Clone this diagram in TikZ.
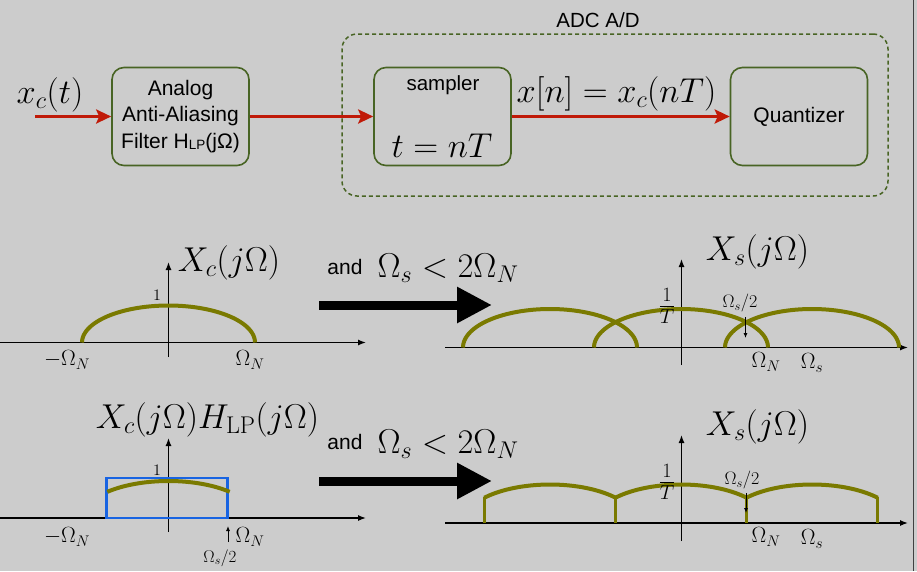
\RequirePackage{fix-cm}
\documentclass[tikz,border=0pt]{standalone}
\usepackage{fontspec}
\newfontfamily\helv{Liberation Sans}
\usetikzlibrary{arrows.meta}
\definecolor{bg}{RGB}{204,204,204}
\definecolor{boxgreen}{RGB}{72,100,36}
\definecolor{sigred}{RGB}{192,26,8}
\definecolor{olivec}{RGB}{122,122,0}
\definecolor{lpblue}{RGB}{24,100,226}
\tikzset{
 blk/.style={draw=boxgreen, line width=1.6pt, rounded corners=12pt, minimum width=137pt, minimum height=98pt, inner sep=0pt, align=center, font=\helv\fontsize{21}{26.5}\selectfont},
 sig/.style={draw=sigred, line width=3pt, -{Stealth[length=15pt,width=14pt,inset=3pt]}},
 htext/.style={inner sep=0pt, font=\helv\fontsize{20.5}{25}\selectfont},
 bigmath/.style={inner sep=0pt, font=\fontsize{34.5}{40}\selectfont},
 axmath/.style={inner sep=0pt, font=\fontsize{22}{26}\selectfont},
 smmath/.style={inner sep=0pt, font=\fontsize{18}{22}\selectfont},
 onelbl/.style={inner sep=0pt, font=\fontsize{16}{19}\selectfont},
 fraclbl/.style={inner sep=0pt, font=\fontsize{29}{33}\selectfont},
 axisline/.style={line width=1.3pt, -{Latex[length=8pt,width=6pt]}},
 spec/.style={draw=olivec, line width=4pt},
 tickarrow/.style={line width=0.9pt, -{Latex[length=5pt,width=4pt]}},
 bigarrow/.style={line width=9pt, -{Triangle[length=35pt,width=34pt]}},
}
\begin{document}
\begin{tikzpicture}[x=1pt,y=-1pt]
\fill[bg] (0,0) rectangle (917,571);
\useasboundingbox (0,0) rectangle (917,571);
\coordinate (edgeT) at (913.5,0);
\coordinate (edgeB) at (913.5,571);
\draw[line width=1.5pt, black!75] (edgeT) -- (edgeB);

% ---------- top block diagram ----------
\node[draw=boxgreen, line width=1.5pt, dash pattern=on 4pt off 3pt, rounded corners=15pt, minimum width=546pt, minimum height=162pt] (adc) at (615,115) {};
\node[htext] (adclbl) at (598,20) {ADC A/D};
\node[blk] (filter) at (180.5,116.5) {Analog\\Anti-Aliasing\\Filter H\raisebox{-1pt}{\fontsize{13.5}{14}\selectfont LP}(jΩ)};
\node[blk] (sampler) at (442.5,116.5) {};
\node[htext] (samplbl) at (443,85) {sampler};
\node[bigmath] (tnt) at (442,146) {$t=nT$};
\node[blk] (quant) at (799,116.5) {Quantizer};
\coordinate (in) at (35,116.5);
\node[bigmath] (xct) at (50,95) {$x_c(t)$};
\draw[sig] (in) -- (filter.west);
\draw[sig] (filter.east) -- (sampler.west);
\draw[sig] (sampler.east) -- (quant.west);
\node[bigmath] (xn) at (616.5,94) {$x[n]=x_c(nT)$};

% ---------- plot 1 ----------
\coordinate (a1l) at (0,342.5); \coordinate (a1r) at (366,342.5);
\coordinate (v1b) at (168.5,357); \coordinate (v1t) at (168.5,262);
\draw[axisline] (a1l) -- (a1r);
\draw[axisline] (v1b) -- (v1t);
\draw[spec] plot[smooth, domain=180:0, samples=61] ({168.5+86.5*cos(\x)},{342.5-37*sin(\x)});
\node[bigmath] (X1) at (229,263) {$X_c(j\Omega)$};
\node[onelbl] (one1) at (157,295) {$1$};
\node[axmath] (mn1) at (67,360) {$-\Omega_N$};
\node[axmath] (pn1) at (250,360) {$\Omega_N$};

% ---------- arrow 1 ----------
\node[htext, font=\helv\fontsize{21}{25}\selectfont] (and1) at (345,267) {and};
\node[bigmath] (cond1) at (448,268) {$\Omega_s<2\Omega_N$};
\coordinate (b1s) at (319,305); \coordinate (b1e) at (492,305);
\draw[bigarrow] (b1s) -- (b1e);

% ---------- plot 2 ----------
\coordinate (a2l) at (445,347.5); \coordinate (a2r) at (908,347.5);
\coordinate (v2b) at (681.5,365); \coordinate (v2t) at (681.5,259);
\draw[axisline] (a2l) -- (a2r);
\draw[axisline] (v2b) -- (v2t);
\foreach \c in {550,681,812}{
  \draw[spec] plot[smooth, domain=180:0, samples=61] ({\c+87*cos(\x)},{347.5-38.5*sin(\x)});
}
\node[bigmath] (X2) at (757.5,252) {$X_s(j\Omega)$};
\node[fraclbl] (T2) at (667,306) {$\frac{1}{T}$};
\node[smmath] (h2) at (740,303) {$\Omega_s/2$};
\coordinate (h2a) at (745.5,317); \coordinate (h2b) at (745.5,338);
\draw[tickarrow] (h2a) -- (h2b);
\node[axmath] (pn2) at (766,362) {$\Omega_N$};
\node[axmath] (ps2) at (812,363) {$\Omega_s$};

% ---------- plot 3 ----------
\coordinate (a3l) at (0,518); \coordinate (a3r) at (366,518);
\coordinate (v3b) at (168.5,532); \coordinate (v3t) at (168.5,438);
\draw[axisline] (a3l) -- (a3r);
\draw[axisline] (v3b) -- (v3t);
\draw[draw=lpblue, line width=2.5pt] (106.5,518) rectangle (227.5,478);
\draw[spec] plot[smooth, domain=135:45, samples=41] ({168.5+86.5*cos(\x)},{518-37*sin(\x)});
\node[bigmath] (X3) at (207.5,420) {$X_c(j\Omega)H_{\mathrm{LP}}(j\Omega)$};
\node[onelbl] (one3) at (157,470) {$1$};
\node[axmath] (mn3) at (67,537) {$-\Omega_N$};
\node[axmath] (pn3) at (250,537) {$\Omega_N$};
\coordinate (h3a) at (228,542); \coordinate (h3b) at (228,526);
\draw[tickarrow] (h3a) -- (h3b);
\node[smmath, font=\fontsize{17}{20}\selectfont] (h3) at (220,558) {$\Omega_s/2$};

% ---------- arrow 2 ----------
\node[htext, font=\helv\fontsize{21}{25}\selectfont] (and2) at (345,442) {and};
\node[bigmath] (cond2) at (448,444) {$\Omega_s<2\Omega_N$};
\coordinate (b2s) at (319,481); \coordinate (b2e) at (492,481);
\draw[bigarrow] (b2s) -- (b2e);

% ---------- plot 4 ----------
\coordinate (a4l) at (445,523); \coordinate (a4r) at (908,523);
\coordinate (v4b) at (681.5,541); \coordinate (v4t) at (681.5,435);
\draw[axisline] (a4l) -- (a4r);
\draw[axisline] (v4b) -- (v4t);
\foreach \c in {550,681,812}{
  \draw[spec] plot[smooth, domain=139:41, samples=41] ({\c+87*cos(\x)},{523-38.5*sin(\x)});
}
\foreach \xx in {484.3,615.3,746.3,877.7}{
  \draw[draw=olivec, line width=3.5pt] (\xx,523) -- (\xx,497);
}
\node[bigmath] (X4) at (757.5,427) {$X_s(j\Omega)$};
\node[fraclbl] (T4) at (667,482) {$\frac{1}{T}$};
\node[smmath] (h4) at (742,480) {$\Omega_s/2$};
\coordinate (h4a) at (746,493); \coordinate (h4b) at (746,513);
\draw[tickarrow] (h4a) -- (h4b);
\node[axmath] (pn4) at (766,537) {$\Omega_N$};
\node[axmath] (ps4) at (812,539) {$\Omega_s$};
\end{tikzpicture}
\end{document}
